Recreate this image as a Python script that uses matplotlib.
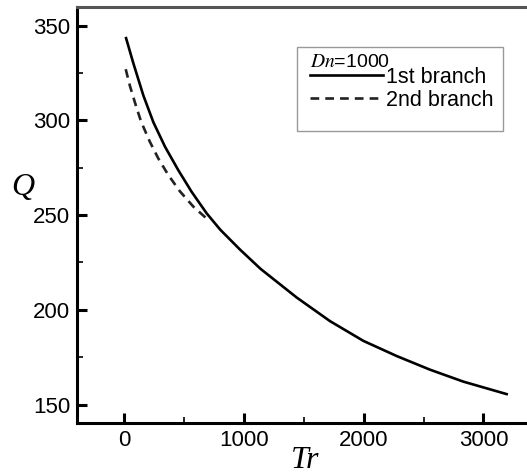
import matplotlib
matplotlib.use("Agg")
import matplotlib.pyplot as plt
from matplotlib.patches import Rectangle

# Q versus Tr at Dn = 1000, two solution branches
tr_first = [17, 78, 161, 245, 342, 453, 564, 690, 803, 968, 1140, 1441,
            1720, 1998, 2276, 2554, 2832, 3194]
q_first = [343.4, 330.1, 313.2, 299.0, 286.1, 273.7, 262.3, 250.9, 242.3,
           231.8, 221.6, 206.5, 194.0, 183.6, 175.6, 168.4, 162.1, 155.5]

tr_second = [14, 50, 98, 142, 214, 286, 370, 467, 578, 703]
q_second = [327.0, 318.0, 308.0, 299.4, 288.9, 279.9, 271.1, 262.5, 254.5, 247.4]

branch_labels = ["1st branch", "2nd branch"]
dn_label = r"$\mathit{Dn}$=1000"

x_ticks = [0, 1000, 2000, 3000]
y_ticks = [150, 200, 250, 300, 350]

plt.rcParams["font.family"] = ["Liberation Sans", "DejaVu Sans"]
plt.rcParams["mathtext.fontset"] = "stix"

fig = plt.figure(figsize=(5.27, 4.74), dpi=100)
ax = fig.add_axes([0.1467, 0.1082, 0.8533, 0.8777])

l1, = ax.plot(tr_first, q_first, color="black", lw=1.9,
              solid_joinstyle="round")
l2, = ax.plot(tr_second, q_second, color="#222222", lw=1.9,
              linestyle=(0, (3.3, 2.3)))

ax.set_xlim(-390, 3364)
ax.set_ylim(140.4, 360)
ax.set_xticks(x_ticks)
ax.set_yticks(y_ticks)
ax.set_xticks([500, 1500, 2500], minor=True)
ax.set_yticks([175, 225, 275, 325], minor=True)

ax.tick_params(which="major", direction="in", length=7.5, width=2.2,
               labelsize=16, pad=5)
ax.tick_params(which="minor", direction="in", length=4, width=1.2)

for side in ["left", "bottom"]:
    ax.spines[side].set_linewidth(2.2)
    ax.spines[side].set_color("black")
ax.spines["top"].set_linewidth(2.2)
ax.spines["top"].set_color("#555555")
ax.spines["right"].set_visible(False)

ax.set_xlabel("Tr", family="Liberation Serif", style="italic", fontsize=23)
ax.set_ylabel("Q", family="Liberation Serif", style="italic", fontsize=23,
              rotation=0)
ax.xaxis.set_label_coords(0.506, -0.09)
ax.yaxis.set_label_coords(-0.121, 0.565)
ax.xaxis.label.set_verticalalignment("center")
ax.yaxis.label.set_verticalalignment("center")
ax.yaxis.label.set_horizontalalignment("center")

# legend box drawn separately so it can be taller than its entries
ax.add_patch(Rectangle((0.4886, 0.7012), 0.458, 0.2019, transform=ax.transAxes,
                       fill=False, edgecolor="#999999", lw=1.0, zorder=5))
leg = ax.legend([l1, l2], branch_labels, loc="upper left",
                bbox_to_anchor=(0.5175, 0.886), frameon=False, fontsize=15.5,
                title=dn_label, title_fontsize=14, alignment="left",
                handlelength=3.4, handletextpad=0.15, labelspacing=0.08,
                borderpad=0, borderaxespad=0)
leg._legend_box.sep = -3

fig.savefig("out.png", dpi=100)
